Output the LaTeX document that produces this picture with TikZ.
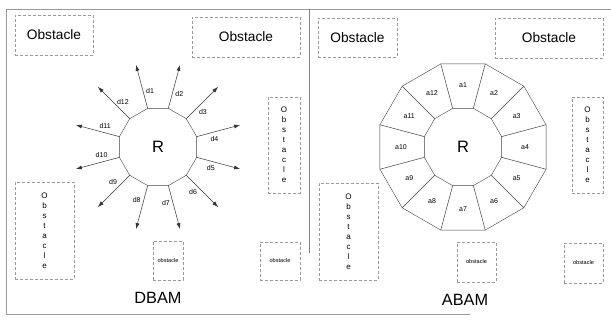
\documentclass[tikz,border=0pt]{standalone}
\usepackage{fontspec}
\setmainfont{Liberation Sans}
\usepackage{tikz}
\usetikzlibrary{calc}
\usetikzlibrary{arrows.meta}
\usetikzlibrary{shapes.geometric}
\tikzset{>={Latex[length=6pt,width=4pt]}}
\tikzstyle{obs} = [draw=gray!80, densely dashed, line width=0.6pt, inner sep=0pt, align=center]
\tikzstyle{obsbig} = [font=\fontsize{13.7}{16}\selectfont]
\tikzstyle{obstall} = [font=\fontsize{8}{10}\selectfont]
\tikzstyle{obssmall} = [font=\fontsize{5.6}{7}\selectfont]
\tikzstyle{robot} = [draw=black!75, regular polygon, regular polygon sides=12, inner sep=0pt, font=\fontsize{16.5}{18}\selectfont]
\tikzstyle{lbl} = [inner sep=0pt, font=\fontsize{7}{8}\selectfont]

\begin{document}
\begin{tikzpicture}[x=1pt, y=1pt]
\useasboundingbox (0,0) rectangle (611,320);
% frame and divider
\coordinate (ftr) at (611,311);
\coordinate (ftl) at (6,311);
\coordinate (fbl) at (6,6);
\coordinate (fbr) at (470,6);
\coordinate (mt) at (309,311);
\coordinate (mb) at (309,67);
\draw [gray!80, line width=0.6pt] (ftr) -- (ftl) -- (fbl) -- (fbr);
\draw [gray, line width=0.8pt] (mt) -- (mb);
% DBAM
\node [obs, obsbig, minimum width=78, minimum height=40] (ol1) at (54,285) {Obstacle};
\node [obs, obsbig, minimum width=108, minimum height=40] (ol2) at (246,283) {Obstacle};
\node [obs, obstall, minimum width=32, minimum height=96] (ol3) at (284,175) {O\\b\\s\\t\\a\\c\\l\\e};
\node [obs, obstall, minimum width=59, minimum height=97] (ol4) at (44.5,89.5) {O\\b\\s\\t\\a\\c\\l\\e};
\node [obs, obssmall, minimum width=30, minimum height=39] (ol5) at (168,59.5) {obstacle};
\node [obs, obssmall, minimum width=40, minimum height=38] (ol6) at (280,59) {obstacle};
\node [robot, minimum size=80] (RD) at (158,173) {R};
\foreach \i in {1,...,12} {
  \pgfmathsetmacro\ang{105-30*(\i-1)}
  \coordinate (dp\i) at ($(RD)+(\ang:40)$);
  \coordinate (dt\i) at ($(RD)+(\ang:85)$);
  \draw [->, draw=black!80, line width=0.5pt] (dp\i) -- (dt\i);
  \node [lbl] (dl\i) at ($(RD)+(\ang-7:57)$) {d\i};
}
\node [font=\fontsize{16.3}{18}\selectfont] (DBAM) at (158,22) {DBAM};
% ABAM
\node [obs, obsbig, minimum width=79, minimum height=39] (or1) at (357.5,282.5) {Obstacle};
\node [obs, obsbig, minimum width=108, minimum height=40] (or2) at (549,282) {Obstacle};
\node [obs, obstall, minimum width=31, minimum height=96] (or3) at (587.5,175) {O\\b\\s\\t\\a\\c\\l\\e};
\node [obs, obstall, minimum width=59, minimum height=97] (or4) at (348.5,88.5) {O\\b\\s\\t\\a\\c\\l\\e};
\node [obs, obssmall, minimum width=39, minimum height=40] (or5) at (476.5,58) {obstacle};
\node [obs, obssmall, minimum width=39, minimum height=40] (or6) at (583.5,57) {obstacle};
\node [robot, minimum size=172] (OA) at (463,173) {};
\node [robot, minimum size=80] (RA) at (463,173) {R};
\foreach \i in {1,...,12} {
  \pgfmathsetmacro\ang{105-30*(\i-1)}
  \coordinate (ap\i) at ($(RA)+(\ang:40)$);
  \coordinate (aq\i) at ($(RA)+(\ang:86)$);
  \draw [draw=black!75, line width=0.5pt] (ap\i) -- (aq\i);
  \node [lbl] (al\i) at ($(RA)+(\ang-15:62)$) {a\i};
}
\node [font=\fontsize{16.3}{18}\selectfont] (ABAM) at (465,20) {ABAM};
\end{tikzpicture}
\end{document}
